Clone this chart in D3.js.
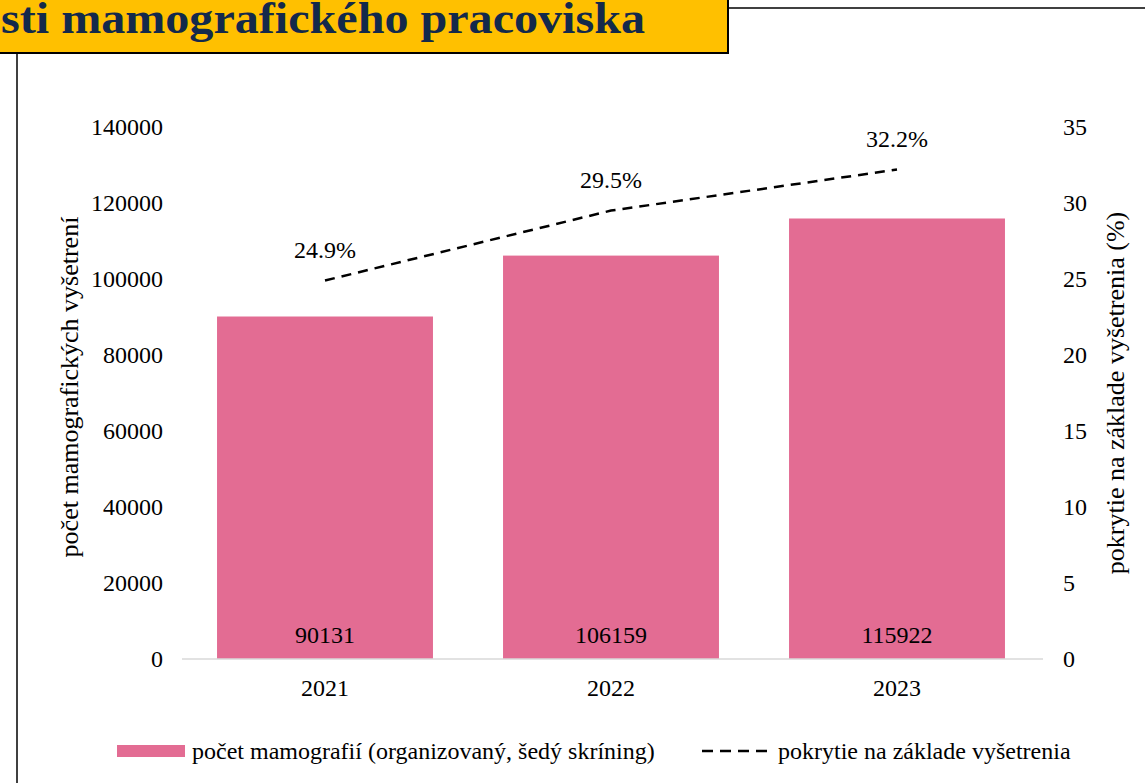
<!DOCTYPE html>
<html>
<head>
<meta charset="utf-8">
<script src="https://cdn.jsdelivr.net/npm/d3@7"></script>
<style>
  body { margin: 0; background: #fff; }
  svg { display: block; }
  svg text { font-family: "Liberation Serif", "Times New Roman", serif; }
</style>
</head>
<body>
<svg width="1145" height="783"></svg>
<script>
var years = ["2021", "2022", "2023"];
var exams = [90131, 106159, 115922];
var coverage = [24.9, 29.5, 32.2];
var leftTicks = [0, 20000, 40000, 60000, 80000, 100000, 120000, 140000];
var rightTicks = [0, 5, 10, 15, 20, 25, 30, 35];

var svg = d3.select("svg");

// title box (cut off on the left as in the source)
svg.append("rect").attr("x", -2).attr("y", -2).attr("width", 730).attr("height", 55)
  .attr("fill", "#FFC000").attr("stroke", "#000").attr("stroke-width", 2);
svg.append("text").attr("x", 1).attr("y", 33)
  .attr("font-size", 44).attr("font-weight", "bold").attr("fill", "#13294B")
  .attr("textLength", 644).attr("lengthAdjust", "spacingAndGlyphs")
  .text("sti mamografického pracoviska");
svg.append("line").attr("x1", 729).attr("x2", 1145).attr("y1", 8).attr("y2", 8)
  .attr("stroke", "#000").attr("stroke-width", 1.5);
svg.append("line").attr("x1", 17).attr("x2", 17).attr("y1", 53).attr("y2", 783)
  .attr("stroke", "#000").attr("stroke-width", 1.5);

var x = d3.scaleBand().domain(years).range([182, 1040]).paddingInner(0.245).paddingOuter(0.1225);
var y = d3.scaleLinear().domain([0, 140000]).range([659, 127]);
var y2 = d3.scaleLinear().domain([0, 35]).range([659, 127]);

// axes
var gL = svg.append("g").attr("transform", "translate(182,0)")
  .call(d3.axisLeft(y).tickValues(leftTicks).tickSize(0).tickPadding(19).tickFormat(d3.format("d")));
var gR = svg.append("g").attr("transform", "translate(1043,0)")
  .call(d3.axisRight(y2).tickValues(rightTicks).tickSize(0).tickPadding(20));
[gL, gR].forEach(function(g) {
  g.select(".domain").remove();
  g.selectAll("text").attr("font-size", 24).attr("fill", "#000");
});

// bars
svg.selectAll("rect.bar").data(years).enter().append("rect")
  .attr("class", "bar")
  .attr("x", function(d) { return x(d); })
  .attr("width", x.bandwidth())
  .attr("y", function(d, i) { return y(exams[i]); })
  .attr("height", function(d, i) { return y(0) - y(exams[i]); })
  .attr("fill", "#E36C93");

svg.selectAll("text.barlab").data(years).enter().append("text")
  .attr("class", "barlab")
  .attr("x", function(d) { return x(d) + x.bandwidth() / 2; })
  .attr("y", 643).attr("text-anchor", "middle").attr("font-size", 24)
  .text(function(d, i) { return exams[i]; });

var gX = svg.append("g").attr("transform", "translate(0,659)")
  .call(d3.axisBottom(x).tickSize(0).tickPadding(20));
gX.select(".domain").attr("stroke", "#d9d9d9").attr("stroke-width", 1.5)
  .attr("d", "M182,0H1043");
gX.selectAll("text").attr("font-size", 24).attr("fill", "#000");

// coverage line
var line = d3.line()
  .x(function(d, i) { return x(years[i]) + x.bandwidth() / 2; })
  .y(function(d) { return y2(d); });
svg.append("path").datum(coverage).attr("d", line)
  .attr("fill", "none").attr("stroke", "#000").attr("stroke-width", 2.5)
  .attr("stroke-dasharray", "10,7");

svg.selectAll("text.covlab").data(coverage).enter().append("text")
  .attr("class", "covlab")
  .attr("x", function(d, i) { return x(years[i]) + x.bandwidth() / 2; })
  .attr("y", function(d) { return y2(d) - 23; })
  .attr("text-anchor", "middle").attr("font-size", 24)
  .text(function(d) { return d.toFixed(1) + "%"; });

// axis titles
svg.append("text").attr("transform", "translate(78,387) rotate(-90)")
  .attr("text-anchor", "middle").attr("font-size", 26)
  .text("počet mamografických  vyšetrení");
svg.append("text").attr("transform", "translate(1124,393) rotate(-90)")
  .attr("text-anchor", "middle").attr("font-size", 26)
  .text("pokrytie na základe vyšetrenia (%)");

// legend
svg.append("rect").attr("x", 117).attr("y", 745).attr("width", 68).attr("height", 12).attr("fill", "#E36C93");
svg.append("text").attr("x", 192).attr("y", 759).attr("font-size", 24)
  .text("počet mamografií (organizovaný, šedý skríning)");
svg.append("line").attr("x1", 702).attr("x2", 768).attr("y1", 751).attr("y2", 751)
  .attr("stroke", "#000").attr("stroke-width", 2.5).attr("stroke-dasharray", "11,7");
svg.append("text").attr("x", 778).attr("y", 759).attr("font-size", 24)
  .text("pokrytie na základe vyšetrenia");
</script>
</body>
</html>
